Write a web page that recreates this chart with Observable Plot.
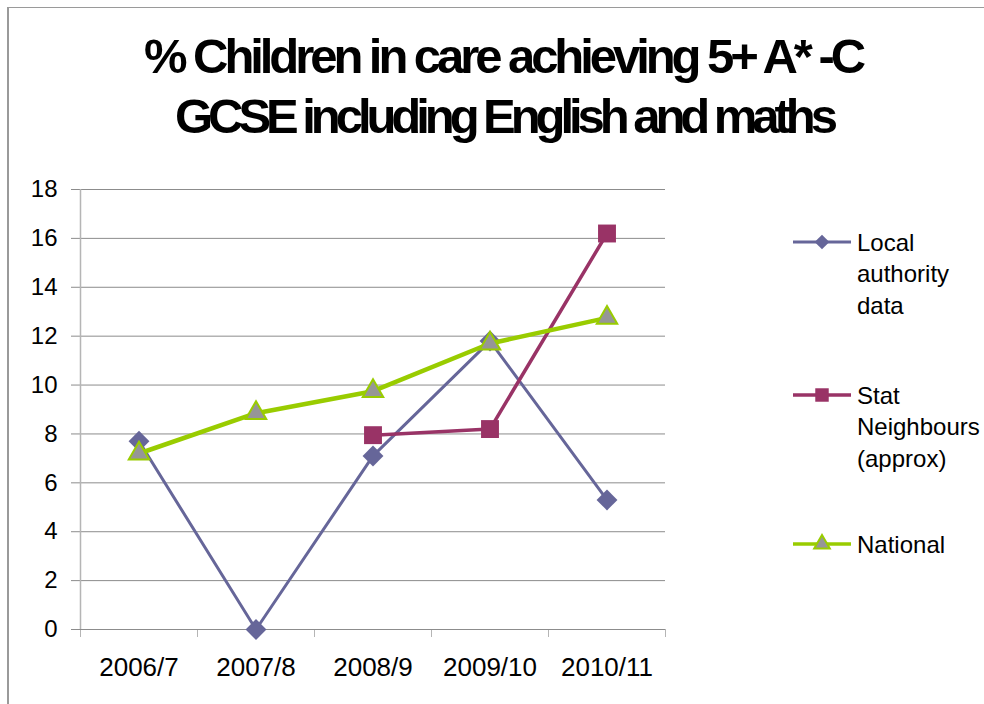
<!DOCTYPE html>
<html>
<head>
<meta charset="utf-8">
<script src="https://cdn.jsdelivr.net/npm/d3@7"></script>
<script src="https://cdn.jsdelivr.net/npm/@observablehq/plot@0.6"></script>
<style>
  html, body { margin: 0; padding: 0; background: #fff; }
  #wrap { position: relative; width: 984px; height: 704px; overflow: hidden; font-family: "Liberation Sans", Arial, sans-serif; color: #000; }
  #frame { position: absolute; left: 7px; top: 7px; width: 1000px; height: 720px; border-left: 2px solid #9a9a9a; border-top: 1px solid #9a9a9a; }
  #title { position: absolute; left: 0; top: 0; }
  #chart { position: absolute; left: 0; top: 170px; }
  .leg { position: absolute; left: 792px; }
  .leg svg { position: absolute; left: 0; }
  .leg .txt { position: absolute; left: 65px; font-size: 24px; line-height: 31.5px; white-space: nowrap; }
</style>
</head>
<body>
<div id="wrap">
  <div id="frame"></div>
  <svg id="title" width="984" height="160">
    <text id="t1" x="144" y="73" font-family="Liberation Sans, Arial, sans-serif" font-weight="bold" font-size="49"></text>
    <text id="t2" x="175" y="133" font-family="Liberation Sans, Arial, sans-serif" font-weight="bold" font-size="49"></text>
  </svg>
  <div id="chart"></div>
  <div id="legend"></div>
</div>
<script>
// ---- data ----
const titleLines = ["% Children in care achieving 5+ A* -C", "GCSE including English and maths"];
const titleWidths = [722, 663];
const categories = ["2006/7", "2007/8", "2008/9", "2009/10", "2010/11"];
const localAuthority = [7.7, 0, 7.1, 11.8, 5.3];
const statNeighbours = [null, null, 7.95, 8.2, 16.2];
const national = [7.2, 8.85, 9.75, 11.7, 12.75];
const yTicks = [0, 2, 4, 6, 8, 10, 12, 14, 16, 18];
const seriesNames = ["Local\nauthority\ndata", "Stat\nNeighbours\n(approx)", "National"];

// title: tight, condensed spacing like the original
["t1", "t2"].forEach((id, i) => {
  const el = document.getElementById(id);
  el.textContent = titleLines[i];
  const natural = el.getComputedTextLength();
  const n = titleLines[i].length - 1;
  const ls = (titleWidths[i] - natural) / n;
  el.setAttribute("letter-spacing", ls.toFixed(2));
});

const toRows = (arr) => categories.map((c, i) => ({cat: c, x: i + 0.5, y: arr[i]})).filter(d => d.y != null);
const laRows = toRows(localAuthority);
const snRows = toRows(statNeighbours);
const natRows = toRows(national);

const centers = categories.map((c, i) => i + 0.5);
const bounds = d3.range(0, categories.length + 1);

const styles = [
  {stroke: "#666699", lw: 3, symbol: "diamond2", fill: "#666699", mstroke: "none", msw: 0, r: 9.4, lr: 6.6},
  {stroke: "#993366", lw: 3.5, symbol: "square", fill: "#993366", mstroke: "none", msw: 0, r: 10.1, lr: 7.6},
  {stroke: "#99cc00", lw: 4.5, symbol: "triangle", fill: "#969696", mstroke: "#99cc00", msw: 2, r: 7.6, lr: 5.8}
];
const rowsets = [laRows, snRows, natRows];

const marks = [
  Plot.gridY({ticks: yTicks, stroke: "#8c8c8c", strokeOpacity: 1, strokeWidth: 1}),
  Plot.axisY({ticks: yTicks, tickSize: 9, tickPadding: 14, fontSize: 24, stroke: "#8c8c8c", strokeOpacity: 1, label: null}),
  Plot.axisX({ticks: bounds, tickSize: 8, tickFormat: () => "", stroke: "#b5b5b5", strokeOpacity: 1, label: null}),
  Plot.axisX({ticks: centers, tickSize: 0, tickPadding: 28, fontSize: 26, tickFormat: (d) => categories[Math.round(d - 0.5)], label: null}),
  Plot.ruleX([0], {stroke: "#b5b5b5", strokeWidth: 1.5}),
  Plot.ruleY([0], {stroke: "#8c8c8c", strokeWidth: 1})
];
rowsets.forEach((rows, k) => {
  const s = styles[k];
  marks.push(Plot.line(rows, {x: "x", y: "y", stroke: s.stroke, strokeWidth: s.lw, strokeLinejoin: "round"}));
  marks.push(Plot.dot(rows, {x: "x", y: "y", symbol: () => s.symbol, r: s.r, fill: s.fill, stroke: s.mstroke, strokeWidth: s.msw}));
});

const chart = Plot.plot({
  width: 680,
  height: 534,
  marginLeft: 80,
  marginRight: 15,
  marginTop: 19,
  marginBottom: 75,
  x: {type: "linear", domain: [0, categories.length]},
  y: {type: "linear", domain: [0, 18]},
  symbol: {type: "identity"},
  style: {fontFamily: "Liberation Sans, Arial, sans-serif", color: "#000", background: "transparent", overflow: "visible"},
  marks
});
document.getElementById("chart").appendChild(chart);

// ---- legend ----
const legendCenters = [242, 395, 544];
const legend = document.getElementById("legend");
const symMap = {diamond2: d3.symbolDiamond2, square: d3.symbolSquare, triangle: d3.symbolTriangle};
seriesNames.forEach((name, k) => {
  const s = styles[k];
  const item = document.createElement("div");
  item.className = "leg";
  item.style.top = (legendCenters[k] - 12) + "px";
  const path = d3.symbol(symMap[s.symbol], s.lr * s.lr * Math.PI)();
  item.innerHTML =
    `<svg width="62" height="24" style="top:0">` +
    `<line x1="1" x2="59" y1="12" y2="12" stroke="${s.stroke}" stroke-width="${Math.min(s.lw, 3.5)}"/>` +
    `<path d="${path}" transform="translate(30,12)" fill="${s.fill}" stroke="${s.mstroke}" stroke-width="${s.msw}"/>` +
    `</svg>`;
  const txt = document.createElement("div");
  txt.className = "txt";
  txt.style.top = "-3.5px";
  txt.innerHTML = name.split("\n").join("<br>");
  item.appendChild(txt);
  legend.appendChild(item);
});
</script>
</body>
</html>
